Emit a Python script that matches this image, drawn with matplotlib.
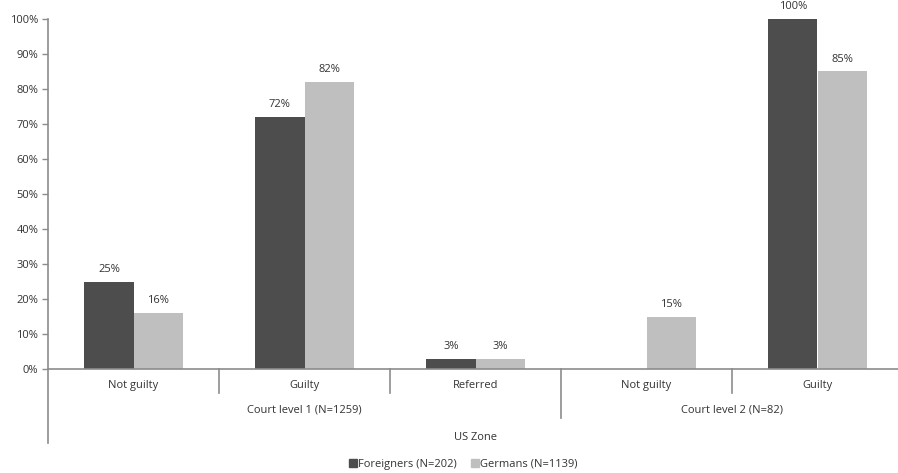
import matplotlib
matplotlib.use("Agg")
import matplotlib.pyplot as plt
import matplotlib.transforms as mtransforms
from matplotlib.lines import Line2D
import numpy as np

plt.rcParams['font.family'] = ['Open Sans', 'DejaVu Sans']

categories = ["Not guilty", "Guilty", "Referred", "Not guilty", "Guilty"]
groups = ["Court level 1 (N=1259)", "Court level 2 (N=82)"]
group_sizes = [3, 2]
zone = "US Zone"
foreigners = [25, 72, 3, 0, 100]
germans = [16, 82, 3, 15, 85]
series_names = ["Foreigners (N=202)", "Germans (N=1139)"]
yticks = [0, 10, 20, 30, 40, 50, 60, 70, 80, 90, 100]

dark = "#4d4d4d"
light = "#bfbfbf"
axis_grey = "#8c8c8c"
text_col = "#333333"

W, H = 898, 473
fig = plt.figure(figsize=(W / 100, H / 100), dpi=100)
ax = fig.add_axes([48 / W, (H - 369) / H, 855 / W, 350 / H])

x = np.arange(len(categories)) + 0.5
bw = 0.287
ax.bar(x - bw / 2, foreigners, bw, color=dark, label=series_names[0])
ax.bar(x + bw / 2, germans, bw, color=light, label=series_names[1])

for xi, v in zip(x - bw / 2, foreigners):
    if v > 0:
        ax.annotate(f"{v}%", (xi, v), xytext=(0, 5), textcoords="offset points",
                    ha="center", va="bottom", fontsize=8, color=text_col)
for xi, v in zip(x + bw / 2, germans):
    if v > 0:
        ax.annotate(f"{v}%", (xi, v), xytext=(0, 5), textcoords="offset points",
                    ha="center", va="bottom", fontsize=8, color=text_col)

ax.set_xlim(0, len(categories))
ax.set_ylim(0, 100)
ax.set_yticks(yticks)
ax.set_yticklabels([f"{t}%" for t in yticks], fontsize=8, color=text_col)
ax.tick_params(axis="y", direction="out", length=4, width=1, color=axis_grey, pad=3)
ax.set_xticks([])
for s in ["top", "right"]:
    ax.spines[s].set_visible(False)
for s in ["left", "bottom"]:
    ax.spines[s].set_color(axis_grey)
    ax.spines[s].set_linewidth(1.2)

trans = mtransforms.blended_transform_factory(ax.transData, ax.transAxes)
px = 1 / 350

# y axis continues down through the category rows
ax.add_line(Line2D([0, 0], [0, -74 * px], transform=trans, color=axis_grey,
                   lw=1.2, clip_on=False))

# category labels and separators
for i, c in enumerate(categories):
    ax.text(i + 0.5, -16 * px, c, transform=trans, ha="center", va="center",
            fontsize=8, color=text_col)

bounds = np.cumsum(group_sizes)
for i in range(1, len(categories)):
    depth = 49 if i in bounds else 24
    ax.add_line(Line2D([i, i], [0, -depth * px], transform=trans, color=axis_grey,
                       lw=1.2, clip_on=False))

start = 0
for g, n in zip(groups, group_sizes):
    ax.text(start + n / 2, -41 * px, g, transform=trans, ha="center", va="center",
            fontsize=8, color=text_col)
    start += n

ax.text(len(categories) / 2, -68 * px, zone, transform=trans, ha="center",
        va="center", fontsize=8, color=text_col)

handles = [Line2D([], [], marker="s", linestyle="none", markersize=6,
                  markerfacecolor=dark, markeredgecolor=dark),
           Line2D([], [], marker="s", linestyle="none", markersize=6,
                  markerfacecolor=light, markeredgecolor=light)]
fig.legend(handles, series_names, loc="center", bbox_to_anchor=(463 / W, (H - 464) / H),
           ncol=2, frameon=False, fontsize=8, handletextpad=0.1, columnspacing=1.2,
           handlelength=0.8, labelcolor=text_col)

fig.savefig("out.png", dpi=100)
